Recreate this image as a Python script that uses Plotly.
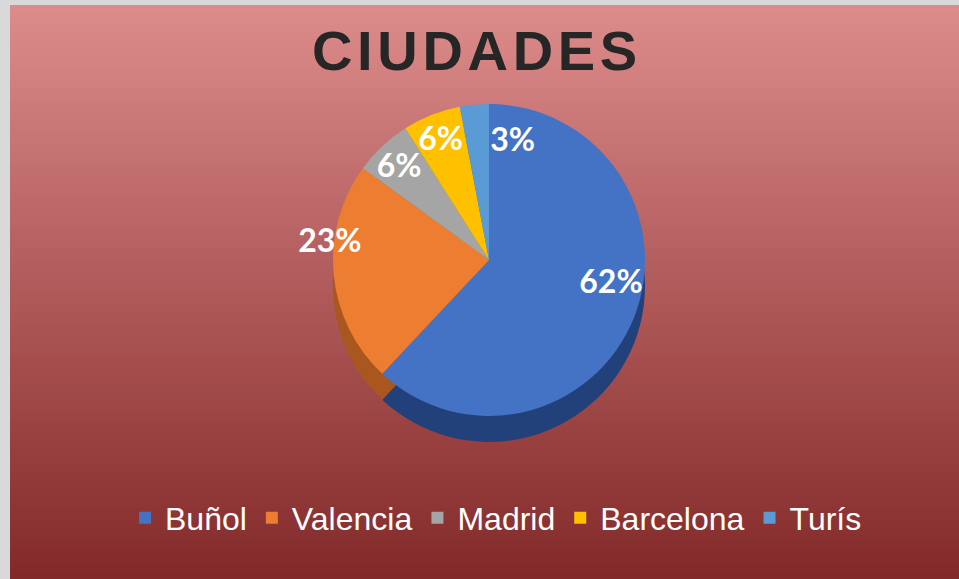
import plotly.graph_objects as go

# ---- data ----
labels = ["Buñol", "Valencia", "Madrid", "Barcelona", "Turís"]
values = [62, 23, 6, 6, 3]
title_text = "CIUDADES"

# ---- styling ----
top_colors = ["#4472C4", "#ED7D31", "#A5A5A5", "#FFC000", "#5B9BD5"]
side_colors = ["#22407A", "#A9561F", "#707070", "#B38700", "#3F6E98"]
pad = "\u2007"
pct = "%{percent:.0%}"
templates = [
    pad + "<br>" + pad * 5 + pct,           # Buñol: nudged right
    pct + pad * 7 + "<br>" + pad,           # Valencia: nudged left / up
    pct,
    pct,
    pad + "<br>" + pad * 4 + pct,           # Turís: nudged right / down
]

W, H = 959, 579
fig = go.Figure()

cx, cy, r, depth = 489, 260, 156, 26
def dom(cx, cy, r):
    return dict(x=[(cx - r) / W, (cx + r) / W], y=[1 - (cy + r) / H, 1 - (cy - r) / H])

fig.add_trace(go.Pie(
    labels=labels, values=values, sort=False, direction="clockwise", rotation=0,
    marker=dict(colors=side_colors, line=dict(width=0)),
    textinfo="none", hoverinfo="skip", showlegend=False,
    domain=dom(cx, cy + depth, r),
))
fig.add_trace(go.Pie(
    labels=labels, values=values, sort=False, direction="clockwise", rotation=0,
    marker=dict(colors=top_colors, line=dict(width=0)),
    texttemplate=templates, textposition="inside",
    insidetextorientation="horizontal",
    textfont=dict(family="Lato", size=32, color="white", weight="bold"),
    domain=dom(cx, cy, r),
))

# gradient background bands
shapes = []
x0, y0 = 10, 5
n = 90
c_top = (220, 139, 139)
c_bot = (131, 41, 41)
for i in range(n):
    t = i / (n - 1)
    c = tuple(int(round(c_top[k] + (c_bot[k] - c_top[k]) * t)) for k in range(3))
    ya = y0 + (H - y0) * i / n
    yb = y0 + (H - y0) * (i + 1) / n + 0.8
    shapes.append(dict(
        type="rect", xref="paper", yref="paper", layer="below",
        x0=x0 / W, x1=1.0, y0=1 - min(yb, H) / H, y1=1 - ya / H,
        fillcolor="rgb(%d,%d,%d)" % c, line=dict(width=0),
    ))

spaced = "\u200a".join(title_text)
ty = 50
annotations = [
    dict(text="<b>" + spaced + "</b>", x=474 / W, y=1 - ty / H,
         xref="paper", yref="paper", showarrow=False, xanchor="center", yanchor="middle",
         font=dict(family="Liberation Sans", size=56, color="#262626")),
]

fig.update_layout(
    width=W, height=H,
    margin=dict(l=0, r=0, t=0, b=0),
    paper_bgcolor="#D9D9D9",
    plot_bgcolor="rgba(0,0,0,0)",
    shapes=shapes,
    annotations=annotations,
    uniformtext=dict(minsize=32, mode="show"),
    legend=dict(
        orientation="h", x=496 / W, xanchor="center", y=1 - 518 / H, yanchor="middle",
        font=dict(family="Liberation Sans", size=32, color="white"),
        bgcolor="rgba(0,0,0,0)", itemwidth=30,
    ),
)

fig.write_html("out.html", config={"displayModeBar": False},
               post_script="document.body.style.margin='0';")
